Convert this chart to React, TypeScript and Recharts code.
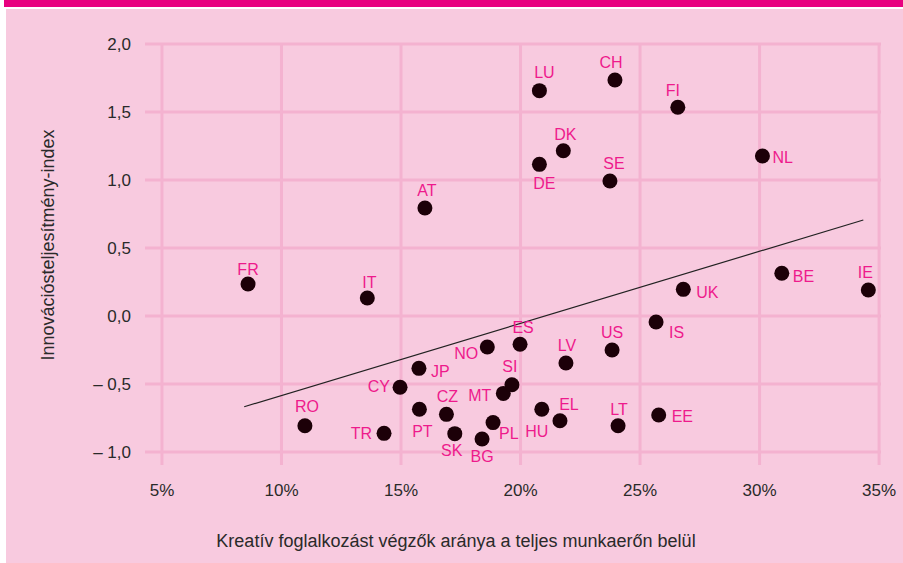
import { ScatterChart, Scatter, XAxis, YAxis, ReferenceLine } from "recharts";

const countries = ["FR", "IT", "AT", "RO", "TR", "CY", "JP", "PT", "CZ", "SK", "BG", "PL", "MT", "SI", "NO", "ES", "HU", "EL", "LT", "EE", "LV", "US", "IS", "UK", "BE", "IE", "NL", "SE", "DE", "DK", "LU", "CH", "FI"];
const creativeShare = [8.6, 13.59, 16.0, 10.98, 14.29, 14.96, 15.75, 15.77, 16.9, 17.25, 18.39, 18.85, 19.28, 19.64, 18.61, 19.98, 20.89, 21.65, 24.08, 25.78, 21.9, 23.83, 25.67, 26.81, 30.93, 34.55, 30.12, 23.74, 20.79, 21.79, 20.79, 23.95, 26.58];
const innovationIndex = [0.235, 0.132, 0.794, -0.807, -0.863, -0.524, -0.385, -0.686, -0.723, -0.865, -0.904, -0.784, -0.569, -0.505, -0.228, -0.208, -0.686, -0.77, -0.807, -0.728, -0.346, -0.25, -0.044, 0.196, 0.314, 0.191, 1.176, 0.993, 1.115, 1.215, 1.657, 1.735, 1.535];
const trendLine = [
  { x: 8.44, y: -0.667 },
  { x: 34.34, y: 0.706 },
];
const xTicks = [5, 10, 15, 20, 25, 30, 35];
const yTicks = [-1, -0.5, 0, 0.5, 1, 1.5, 2];

const points = countries.map((c, i) => ({ code: c, x: creativeShare[i], y: innovationIndex[i] }));

// label placement: dx, dy from dot centre, text anchor
const labelPos: Record<string, [number, number, string]> = {
  FR: [0, -15, "middle"], IT: [2, -16, "middle"], AT: [2, -18, "middle"],
  RO: [2, -19, "middle"], TR: [-12, 0, "end"], CY: [-10, -1, "end"],
  JP: [12, 3, "start"], PT: [3, 22, "middle"], CZ: [1, -18, "middle"],
  SK: [-3, 17, "middle"], BG: [0, 18, "middle"], PL: [6, 11, "start"],
  MT: [-12, 2, "end"], SI: [-2, -18, "middle"], NO: [-9, 6, "end"],
  ES: [3, -17, "middle"], HU: [-5, 22, "middle"], EL: [9, -16, "middle"],
  LT: [1, -16, "middle"], EE: [13, 1, "start"], LV: [1, -18, "middle"],
  US: [0, -17, "middle"], IS: [13, 11, "start"], UK: [13, 3, "start"],
  BE: [11, 3, "start"], IE: [-3, -18, "middle"], NL: [10, 1, "start"],
  SE: [4, -17, "middle"], DE: [5, 19, "middle"], DK: [2, -16, "middle"],
  LU: [5, -18, "middle"], CH: [-4, -18, "middle"], FI: [-5, -17, "middle"],
};

const fmtY = (v: number) => {
  const s = Math.abs(v).toFixed(1).replace(".", ",");
  return v < 0 ? `– ${s}` : s;
};

const Dot = (props: any) => {
  const { cx, cy, payload } = props;
  const [dx, dy, anchor] = labelPos[payload.code] || [0, -16, "middle"];
  return (
    <g>
      <circle cx={cx} cy={cy} r={7.5} fill="#1c0008" />
      <text
        x={cx + dx}
        y={cy + dy}
        textAnchor={anchor}
        dominantBaseline="central"
        fill="#ee1a8c"
        fontSize={16}
        fontFamily="Liberation Sans, Arial, sans-serif"
      >
        {payload.code}
      </text>
    </g>
  );
};

export default function App() {
  const font = "Liberation Sans, Arial, sans-serif";
  const gridColor = "#f4b2d0";
  return (
    <div style={{ position: "absolute", left: 0, top: 0, width: 903, height: 563, background: "#fff", fontFamily: font }}>
      <div style={{ position: "absolute", left: 4, top: 0, width: 899, height: 7, background: "#e8007f" }} />
      <div style={{ position: "absolute", left: 6, top: 9, width: 897, height: 554, background: "#f8cadf" }} />
      <div style={{ position: "absolute", left: 0, top: 0 }}>
        <ScatterChart width={903} height={563} margin={{ top: 44, right: 22, bottom: 58, left: 85 }}>
          <XAxis
            type="number"
            dataKey="x"
            domain={[4.29, 35.08]}
            ticks={xTicks}
            tickFormatter={(v: number) => `${v}%`}
            axisLine={false}
            tickLine={false}
            tickSize={0}
            tickMargin={19}
            height={40}
            tick={{ fill: "#2a2a2a", fontSize: 17, fontFamily: font }}
            allowDataOverflow
          />
          <YAxis
            type="number"
            dataKey="y"
            domain={[-1.0956, 2]}
            ticks={yTicks}
            tickFormatter={fmtY}
            axisLine={false}
            tickLine={false}
            tickSize={0}
            tickMargin={14}
            width={60}
            tick={{ fill: "#2a2a2a", fontSize: 17, fontFamily: font }}
            allowDataOverflow
          />
          {yTicks.map((t) => (
            <ReferenceLine key={`h${t}`} y={t} stroke={gridColor} strokeWidth={3} />
          ))}
          {xTicks.map((t) => (
            <ReferenceLine key={`v${t}`} x={t} stroke={gridColor} strokeWidth={3} />
          ))}
          <ReferenceLine segment={trendLine} stroke="#222" strokeWidth={1.2} ifOverflow="visible" />
          <Scatter data={points} shape={<Dot />} isAnimationActive={false} />
        </ScatterChart>
      </div>
      <div
        style={{
          position: "absolute",
          left: 0,
          width: 912,
          top: 530,
          textAlign: "center",
          fontSize: 18,
          color: "#2a2a2a",
          lineHeight: "22px",
        }}
      >
        Kreatív foglalkozást végzők aránya a teljes munkaerőn belül
      </div>
      <div
        style={{
          position: "absolute",
          left: 48,
          top: 245,
          transform: "translate(-50%, -50%) rotate(-90deg)",
          whiteSpace: "nowrap",
          fontSize: 18,
          color: "#2a2a2a",
          lineHeight: "22px",
        }}
      >
        Innovációsteljesítmény-index
      </div>
    </div>
  );
}
